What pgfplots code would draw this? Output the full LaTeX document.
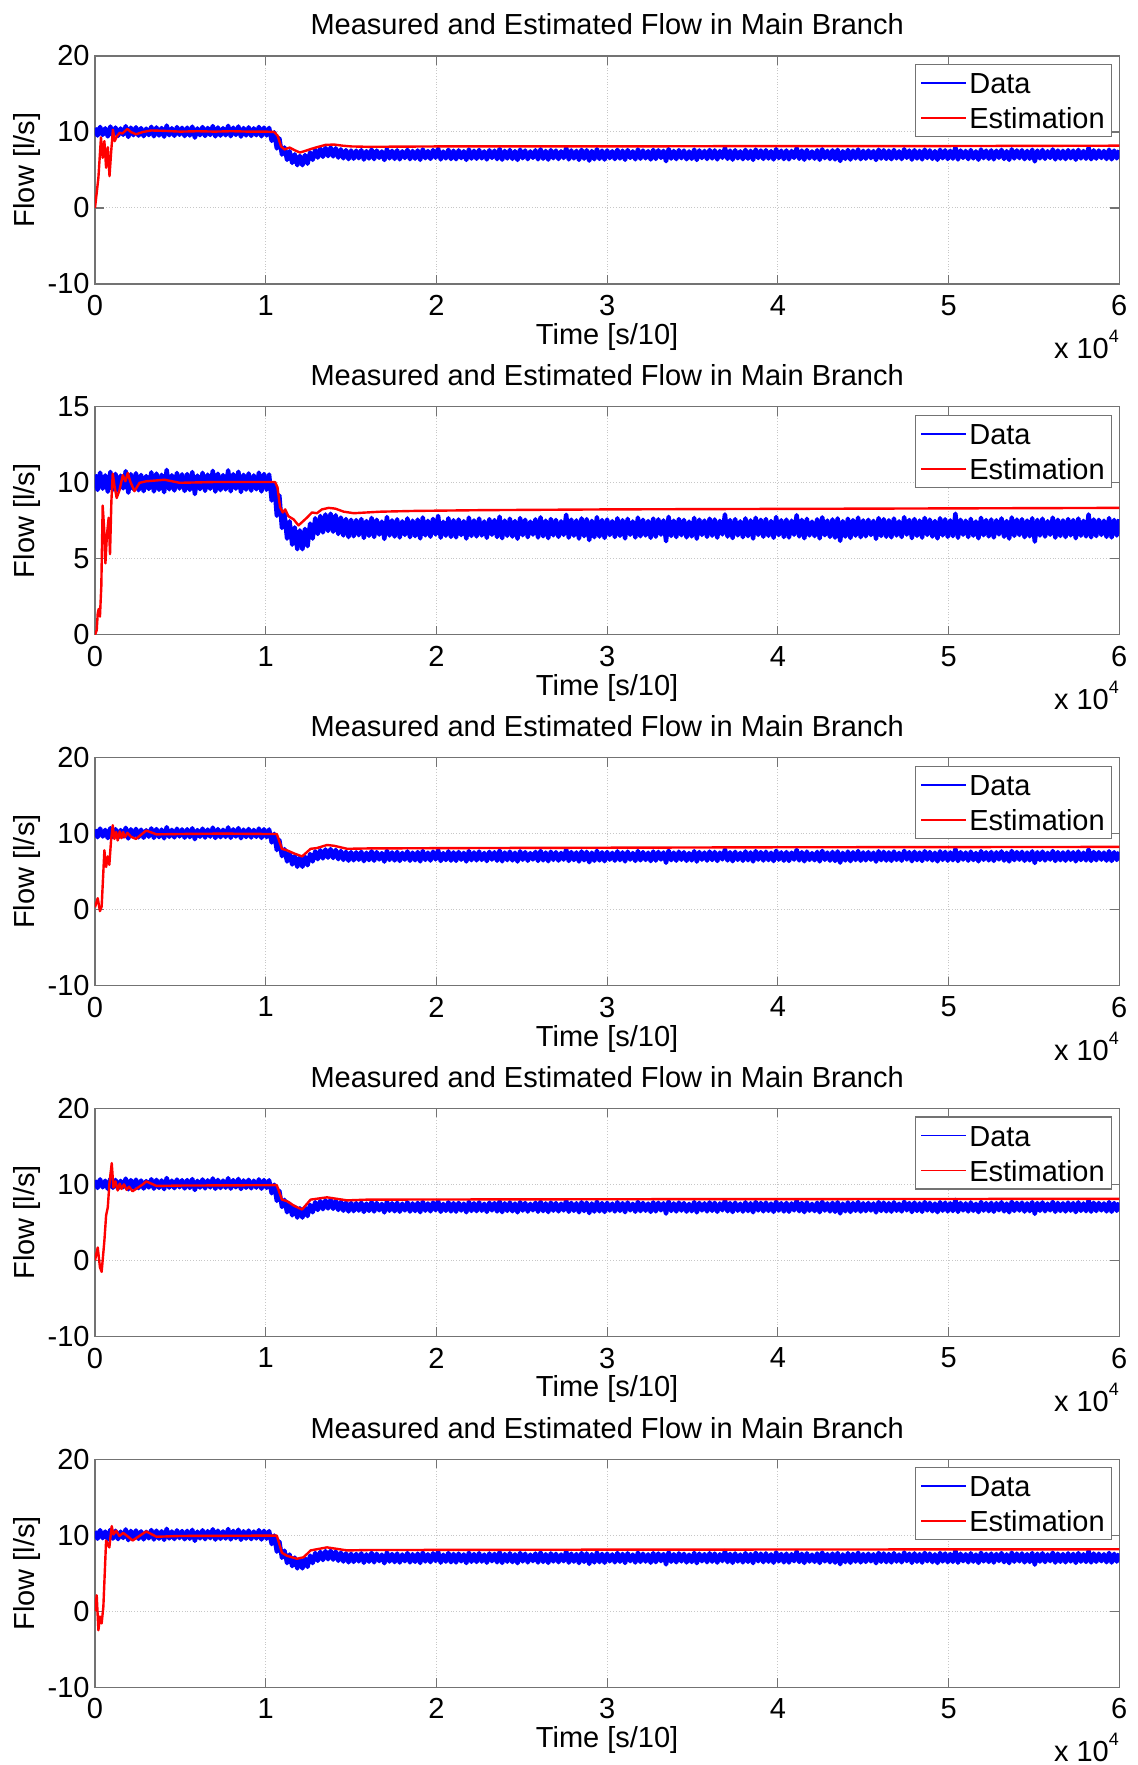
\documentclass[border=0pt]{standalone}
\usepackage{pgfplots}
\pgfplotsset{compat=1.18}
\usepackage{pgfplotstable}
\usepackage{fontspec}
\setmainfont{Liberation Sans}

\pgfplotstableread[row sep=\\]{
x y \\
0 10.55 \\ 150 9.53 \\ 300 10.67 \\ 450 9.61 \\ 600 10.49 \\ 750 9.41 \\ 900 10.72 \\ 1050 9.55 \\ 1200 10.59 \\ 1350 9.48 \\
1500 10.47 \\ 1650 9.63 \\ 1800 10.77 \\ 1950 9.35 \\ 2100 10.57 \\ 2250 9.58 \\ 2400 10.63 \\ 2550 9.51 \\ 2700 10.52 \\ 2850 9.45 \\
3000 10.45 \\ 3150 9.59 \\ 3300 10.69 \\ 3450 9.43 \\ 3600 10.61 \\ 3750 9.54 \\ 3900 10.53 \\ 4050 9.38 \\ 4200 10.85 \\ 4350 9.57 \\
4500 10.50 \\ 4650 9.49 \\ 4800 10.65 \\ 4950 9.62 \\ 5100 10.56 \\ 5250 9.46 \\ 5400 10.58 \\ 5550 9.53 \\ 5700 10.71 \\ 5850 9.26 \\
6000 10.48 \\ 6150 9.58 \\ 6300 10.66 \\ 6450 9.47 \\ 6600 10.54 \\ 6750 9.60 \\ 6900 10.79 \\ 7050 9.42 \\ 7200 10.60 \\ 7350 9.52 \\
7500 10.51 \\ 7650 9.56 \\ 7800 10.82 \\ 7950 9.44 \\ 8100 10.57 \\ 8250 9.61 \\ 8400 10.73 \\ 8550 9.39 \\ 8700 10.53 \\ 8850 9.55 \\
9000 10.62 \\ 9150 9.48 \\ 9300 10.49 \\ 9450 9.57 \\ 9600 10.67 \\ 9750 9.43 \\ 9900 10.58 \\ 10050 9.54 \\ 10200 10.55 \\
10350 8.83 \\ 10500 9.97 \\ 10650 7.83 \\ 10800 9.17 \\ 10950 7.03 \\ 11100 7.97 \\ 11250 6.33 \\ 11400 7.47 \\ 11550 5.93 \\ 11700 7.07 \\
11850 5.63 \\ 12000 6.87 \\ 12150 5.63 \\ 12300 6.97 \\ 12450 5.83 \\ 12600 7.32 \\ 12750 6.33 \\ 12900 7.67 \\ 13050 6.63 \\ 13200 7.82 \\
13350 6.73 \\ 13500 7.92 \\ 13650 6.83 \\ 13800 7.97 \\ 13950 6.78 \\ 14100 7.87 \\ 14250 6.63 \\ 14400 7.72 \\ 14550 6.53 \\ 14700 7.62 \\
14850 6.43 \\ 15000 7.57 \\
15150 6.48 \\ 15300 7.55 \\ 15450 6.55 \\ 15600 7.62 \\ 15750 6.37 \\ 15900 7.49 \\ 16050 6.51 \\ 16200 7.69 \\ 16350 6.43 \\ 16500 7.57 \\
16650 6.59 \\ 16800 7.45 \\ 16950 6.31 \\ 17100 7.75 \\ 17250 6.53 \\ 17400 7.53 \\ 17550 6.46 \\ 17700 7.60 \\ 17850 6.40 \\ 18000 7.47 \\
18150 6.57 \\ 18300 7.66 \\ 18450 6.42 \\ 18600 7.51 \\ 18750 6.49 \\ 18900 7.58 \\ 19050 6.34 \\ 19200 7.72 \\ 19350 6.54 \\ 19500 7.50 \\
19650 6.45 \\ 19800 7.63 \\ 19950 6.60 \\ 20100 7.82 \\ 20250 6.39 \\ 20400 7.44 \\ 20550 6.52 \\ 20700 7.67 \\ 20850 6.44 \\ 21000 7.54 \\
21150 6.41 \\ 21300 7.59 \\ 21450 6.56 \\ 21600 7.48 \\ 21750 6.33 \\ 21900 7.71 \\ 22050 6.50 \\ 22200 7.53 \\ 22350 6.47 \\ 22500 7.65 \\
22650 6.53 \\ 22800 7.46 \\ 22950 6.38 \\ 23100 7.61 \\ 23250 6.58 \\ 23400 7.55 \\ 23550 6.43 \\ 23700 7.77 \\ 23850 6.35 \\ 24000 7.52 \\
24150 6.51 \\ 24300 7.64 \\ 24450 6.46 \\ 24600 7.49 \\ 24750 6.32 \\ 24900 7.68 \\ 25050 6.55 \\ 25200 7.57 \\ 25350 6.42 \\ 25500 7.45 \\
25650 6.59 \\ 25800 7.60 \\ 25950 6.40 \\ 26100 7.73 \\ 26250 6.48 \\ 26400 7.51 \\ 26550 6.36 \\ 26700 7.62 \\ 26850 6.54 \\ 27000 7.56 \\
27150 6.44 \\ 27300 7.47 \\ 27450 6.57 \\ 27600 7.90 \\ 27750 6.39 \\ 27900 7.58 \\ 28050 6.52 \\ 28200 7.53 \\ 28350 6.33 \\ 28500 7.66 \\
28650 6.49 \\ 28800 7.61 \\ 28950 6.23 \\ 29100 7.50 \\ 29250 6.42 \\ 29400 7.74 \\ 29550 6.46 \\ 29700 7.55 \\ 29850 6.37 \\ 30000 7.59 \\
30150 6.56 \\ 30300 7.48 \\ 30450 6.43 \\ 30600 7.67 \\ 30750 6.51 \\ 30900 7.54 \\ 31050 6.34 \\ 31200 7.63 \\ 31350 6.58 \\ 31500 7.46 \\
31650 6.40 \\ 31800 7.71 \\ 31950 6.48 \\ 32100 7.57 \\ 32250 6.53 \\ 32400 7.49 \\ 32550 6.38 \\ 32700 7.65 \\ 32850 6.45 \\ 33000 7.60 \\
33150 6.59 \\ 33300 7.53 \\ 33450 6.16 \\ 33600 7.76 \\ 33750 6.50 \\ 33900 7.51 \\ 34050 6.43 \\ 34200 7.62 \\ 34350 6.55 \\ 34500 7.56 \\
34650 6.41 \\ 34800 7.45 \\ 34950 6.47 \\ 35100 7.69 \\ 35250 6.32 \\ 35400 7.58 \\ 35550 6.57 \\ 35700 7.52 \\ 35850 6.44 \\ 36000 7.64 \\
36150 6.52 \\ 36300 7.59 \\ 36450 6.39 \\ 36600 7.50 \\ 36750 6.60 \\ 36900 7.92 \\ 37050 6.46 \\ 37200 7.55 \\ 37350 6.36 \\ 37500 7.61 \\
37650 6.54 \\ 37800 7.47 \\ 37950 6.42 \\ 38100 7.66 \\ 38250 6.49 \\ 38400 7.53 \\ 38550 6.33 \\ 38700 7.70 \\ 38850 6.57 \\ 39000 7.57 \\
39150 6.45 \\ 39300 7.62 \\ 39450 6.51 \\ 39600 7.49 \\ 39750 6.38 \\ 39900 7.75 \\ 40050 6.56 \\ 40200 7.54 \\ 40350 6.43 \\ 40500 7.58 \\
40650 6.40 \\ 40800 7.51 \\ 40950 6.58 \\ 41100 7.87 \\ 41250 6.47 \\ 41400 7.56 \\ 41550 6.35 \\ 41700 7.63 \\ 41850 6.53 \\ 42000 7.45 \\
42150 6.49 \\ 42300 7.60 \\ 42450 6.34 \\ 42600 7.73 \\ 42750 6.55 \\ 42900 7.52 \\ 43050 6.44 \\ 43200 7.59 \\ 43350 6.39 \\ 43500 7.66 \\
43650 6.18 \\ 43800 7.48 \\ 43950 6.46 \\ 44100 7.64 \\ 44250 6.37 \\ 44400 7.55 \\ 44550 6.52 \\ 44700 7.71 \\ 44850 6.42 \\ 45000 7.53 \\
45150 6.48 \\ 45300 7.57 \\ 45450 6.56 \\ 45600 7.50 \\ 45750 6.31 \\ 45900 7.68 \\ 46050 6.50 \\ 46200 7.61 \\ 46350 6.45 \\ 46500 7.54 \\
46650 6.41 \\ 46800 7.65 \\ 46950 6.53 \\ 47100 7.47 \\ 47250 6.43 \\ 47400 7.74 \\ 47550 6.59 \\ 47700 7.56 \\ 47850 6.36 \\ 48000 7.62 \\
48150 6.51 \\ 48300 7.52 \\ 48450 6.39 \\ 48600 7.69 \\ 48750 6.57 \\ 48900 7.58 \\ 49050 6.46 \\ 49200 7.49 \\ 49350 6.34 \\ 49500 7.67 \\
49650 6.54 \\ 49800 7.60 \\ 49950 6.44 \\ 50100 7.53 \\ 50250 6.49 \\ 50400 7.97 \\ 50550 6.38 \\ 50700 7.57 \\ 50850 6.58 \\ 51000 7.51 \\
51150 6.43 \\ 51300 7.63 \\ 51450 6.52 \\ 51600 7.46 \\ 51750 6.35 \\ 51900 7.70 \\ 52050 6.55 \\ 52200 7.55 \\ 52350 6.47 \\ 52500 7.59 \\
52650 6.40 \\ 52800 7.54 \\ 52950 6.60 \\ 53100 7.66 \\ 53250 6.45 \\ 53400 7.49 \\ 53550 6.33 \\ 53700 7.72 \\ 53850 6.51 \\ 54000 7.58 \\
54150 6.56 \\ 54300 7.61 \\ 54450 6.42 \\ 54600 7.52 \\ 54750 6.48 \\ 54900 7.67 \\ 55050 6.13 \\ 55200 7.56 \\ 55350 6.53 \\ 55500 7.64 \\
55650 6.46 \\ 55800 7.48 \\ 55950 6.58 \\ 56100 7.71 \\ 56250 6.39 \\ 56400 7.57 \\ 56550 6.50 \\ 56700 7.53 \\ 56850 6.43 \\ 57000 7.62 \\
57150 6.54 \\ 57300 7.55 \\ 57450 6.35 \\ 57600 7.65 \\ 57750 6.52 \\ 57900 7.50 \\ 58050 6.47 \\ 58200 7.92 \\ 58350 6.41 \\ 58500 7.59 \\
58650 6.49 \\ 58800 7.57 \\ 58950 6.57 \\ 59100 7.51 \\ 59250 6.44 \\ 59400 7.68 \\ 59550 6.40 \\ 59700 7.56 \\ 59850 6.53 \\ 60000 7.60 \\
}\bluedata

\pgfplotstableread[row sep=\\]{
x y \\
0 0 \\ 200 4.0 \\ 350 9.3 \\ 450 6.6 \\ 550 8.8 \\ 650 5.3 \\ 750 8.0 \\ 850 4.2 \\ 950 7.5 \\ 1050 10.3 \\
1150 8.8 \\ 1300 9.5 \\ 1450 9.9 \\ 1600 9.8 \\ 1900 10.4 \\ 2100 10.0 \\ 2400 9.7 \\ 2800 10.0 \\ 3300 10.2 \\ 4000 10.15 \\
5000 10.05 \\ 6000 10.1 \\ 7000 10.05 \\ 8000 10.1 \\ 9000 10.05 \\ 10000 10.05 \\ 10500 10.0 \\ 10700 9.5 \\ 10900 8.1 \\ 11100 7.7 \\
11400 7.95 \\ 11700 7.6 \\ 12000 7.3 \\ 12300 7.5 \\ 12700 7.8 \\ 13000 8.0 \\ 13500 8.3 \\ 14000 8.35 \\ 14500 8.2 \\ 15000 8.1 \\
16000 8.05 \\ 20000 8.1 \\ 30000 8.1 \\ 40000 8.15 \\ 50000 8.15 \\ 60000 8.2 \\
}\redA

\pgfplotstableread[row sep=\\]{
x y \\
0 0 \\ 100 0.3 \\ 160 1.4 \\ 215 1.7 \\ 290 1.2 \\ 370 3.2 \\ 450 8.5 \\ 530 7.1 \\ 610 4.7 \\ 700 6.6 \\
800 7.7 \\ 880 5.3 \\ 960 8.8 \\ 1040 10.6 \\ 1140 9.8 \\ 1270 9.0 \\ 1430 9.5 \\ 1630 10.5 \\ 1780 10.1 \\ 1920 10.65 \\
2060 10.1 \\ 2310 9.45 \\ 2610 10.0 \\ 3000 10.1 \\ 4080 10.2 \\ 4960 10.0 \\ 6920 10.05 \\ 8880 10.05 \\ 10550 10.05 \\ 10690 9.7 \\
10840 8.4 \\ 11000 8.05 \\ 11140 8.25 \\ 11330 7.8 \\ 11630 7.6 \\ 11920 7.2 \\ 12120 7.4 \\ 12410 7.7 \\ 12710 8.05 \\ 13000 8.0 \\
13290 8.25 \\ 13690 8.35 \\ 14080 8.3 \\ 14570 8.1 \\ 15160 8.0 \\ 16730 8.1 \\ 18730 8.15 \\ 22610 8.2 \\ 30000 8.25 \\ 45000 8.3 \\
60000 8.35 \\
}\redB

\pgfplotstableread[row sep=\\]{
x y \\
0 0.3 \\ 160 1.5 \\ 290 -0.2 \\ 390 0.4 \\ 550 7.8 \\ 650 5.6 \\ 750 7.0 \\ 840 5.9 \\ 940 9.1 \\ 1040 11.1 \\
1140 9.3 \\ 1240 10.2 \\ 1330 9.1 \\ 1450 10.3 \\ 1550 9.4 \\ 1650 10.2 \\ 1750 9.5 \\ 1900 10.1 \\ 2100 9.6 \\ 2400 9.3 \\
3000 10.4 \\ 3600 9.9 \\ 5000 9.95 \\ 7500 10.0 \\ 10000 9.95 \\ 10650 9.95 \\ 10950 8.0 \\ 11250 7.8 \\ 11650 7.4 \\ 12130 7.0 \\
12630 8.0 \\ 13000 8.1 \\ 13590 8.5 \\ 14000 8.4 \\ 14770 8.0 \\ 16000 8.05 \\ 22000 8.1 \\ 40000 8.2 \\ 60000 8.25 \\
}\redC

\pgfplotstableread[row sep=\\]{
x y \\
0 0 \\ 160 1.7 \\ 290 -0.9 \\ 390 -1.5 \\ 550 2.6 \\ 650 5.9 \\ 750 7.0 \\ 840 10.0 \\ 980 12.8 \\ 1080 9.6 \\
1200 10.4 \\ 1330 9.2 \\ 1450 10.1 \\ 1550 9.4 \\ 1700 10.0 \\ 1850 9.3 \\ 2000 9.7 \\ 2200 9.1 \\ 2800 10.0 \\ 3000 10.4 \\
3600 9.8 \\ 5000 9.85 \\ 10650 9.9 \\ 10950 8.0 \\ 11250 7.8 \\ 11650 7.2 \\ 12130 6.7 \\ 12630 8.0 \\ 13590 8.3 \\ 14770 7.9 \\
16000 8.0 \\ 30000 8.05 \\ 60000 8.1 \\
}\redD

\pgfplotstableread[row sep=\\]{
x y \\
0 0 \\ 100 2.1 \\ 200 -2.5 \\ 290 -0.7 \\ 390 -1.6 \\ 490 0.6 \\ 650 9.3 \\ 840 8.4 \\ 980 11.2 \\ 1080 10.1 \\
1240 10.6 \\ 1430 9.9 \\ 1650 10.3 \\ 2000 9.7 \\ 2200 9.3 \\ 2600 9.9 \\ 3000 10.5 \\ 3600 9.8 \\ 5000 9.9 \\ 10650 9.95 \\
10950 7.7 \\ 11240 7.3 \\ 11830 6.9 \\ 12220 7.1 \\ 12630 8.0 \\ 13590 8.4 \\ 14770 8.0 \\ 16000 8.05 \\ 30000 8.1 \\ 60000 8.15 \\
}\redE

\pgfplotsset{
  myax/.style={
    anchor=north west,
    scale only axis, width=512.15pt, height=114pt,
    xmin=0, xmax=60000, xtick={0,10000,20000,30000,40000,50000,60000},
    xticklabels={0,1,2,3,4,5,6}, scaled x ticks=false,
    /pgf/number format/assume math mode=true,
    grid=major, grid style={densely dotted, black!22, line width=0.5pt},
    axis line style={black!55, line width=0.6pt},
    tick style={black!55, line width=0.6pt},
    major tick length=4.5pt, tick align=inside,
    xticklabel style={anchor=north, inner sep=0pt, yshift=-5.5pt},
    yticklabel style={anchor=east, inner sep=0pt, xshift=-2.5pt},
    title={Measured and Estimated Flow in Main Branch},
    every axis title shift=0pt,
    title style={at={(axis description cs:0.5,1.0921)}, anchor=base, inner sep=0pt},
    xlabel={Time [s/10]},
    xlabel style={at={(axis description cs:0.5,-0.2654)}, anchor=base, inner sep=0pt},
    ylabel={Flow [l/s]},
    ylabel style={at={(axis description cs:-0.0593,0.5)}, anchor=base, inner sep=0pt},
    legend style={at={(axis description cs:1,1)}, anchor=north east, xshift=-3.5pt, yshift=-4pt,
      draw=black!55, fill=white, line width=0.6pt, inner xsep=2.5pt, inner ysep=0.5pt,
      nodes={inner sep=1pt, text height=13pt, text depth=2.5pt}, row sep=0pt},
    legend cell align=left,
    legend image code/.code={\draw[##1, line width=0.9pt] (0pt,0pt) -- (22.5pt,0pt);},
    after end axis/.code={\node[anchor=base east, inner sep=0pt] at (rel axis cs:1,-0.3275)
      {x 10\raisebox{8pt}{\fontsize{9}{9}\selectfont 4}};},
  },
  dat/.style={blue, line width=2.2pt, line join=round},
  est/.style={red, line width=1.2pt, line join=round},
}

\begin{document}
\fontsize{14.5}{17}\selectfont
\begin{tikzpicture}
\path[use as bounding box] (0,0) rectangle (568.5pt,-882.5pt);

\begin{axis}[myax, at={(47.5pt,-28pt)}, ymin=-10, ymax=20, ytick={-10,0,10,20}]
\addplot[dat] table {\bluedata};
\addplot[est] table {\redA};
\legend{Data,Estimation}
\end{axis}

\begin{axis}[myax, at={(47.5pt,-203.4pt)}, ymin=0, ymax=15, ytick={0,5,10,15}]
\addplot[dat] table {\bluedata};
\addplot[est] table {\redB};
\legend{Data,Estimation}
\end{axis}

\begin{axis}[myax, at={(47.5pt,-378.8pt)}, ymin=-10, ymax=20, ytick={-10,0,10,20}]
\addplot[dat] table {\bluedata};
\addplot[est] table {\redC};
\legend{Data,Estimation}
\end{axis}

\begin{axis}[myax, at={(47.5pt,-554.2pt)}, ymin=-10, ymax=20, ytick={-10,0,10,20}]
\addplot[dat] table {\bluedata};
\addplot[est] table {\redD};
\legend{Data,Estimation}
\end{axis}

\begin{axis}[myax, at={(47.5pt,-729.6pt)}, ymin=-10, ymax=20, ytick={-10,0,10,20}]
\addplot[dat] table {\bluedata};
\addplot[est] table {\redE};
\legend{Data,Estimation}
\end{axis}
\end{tikzpicture}
\end{document}
